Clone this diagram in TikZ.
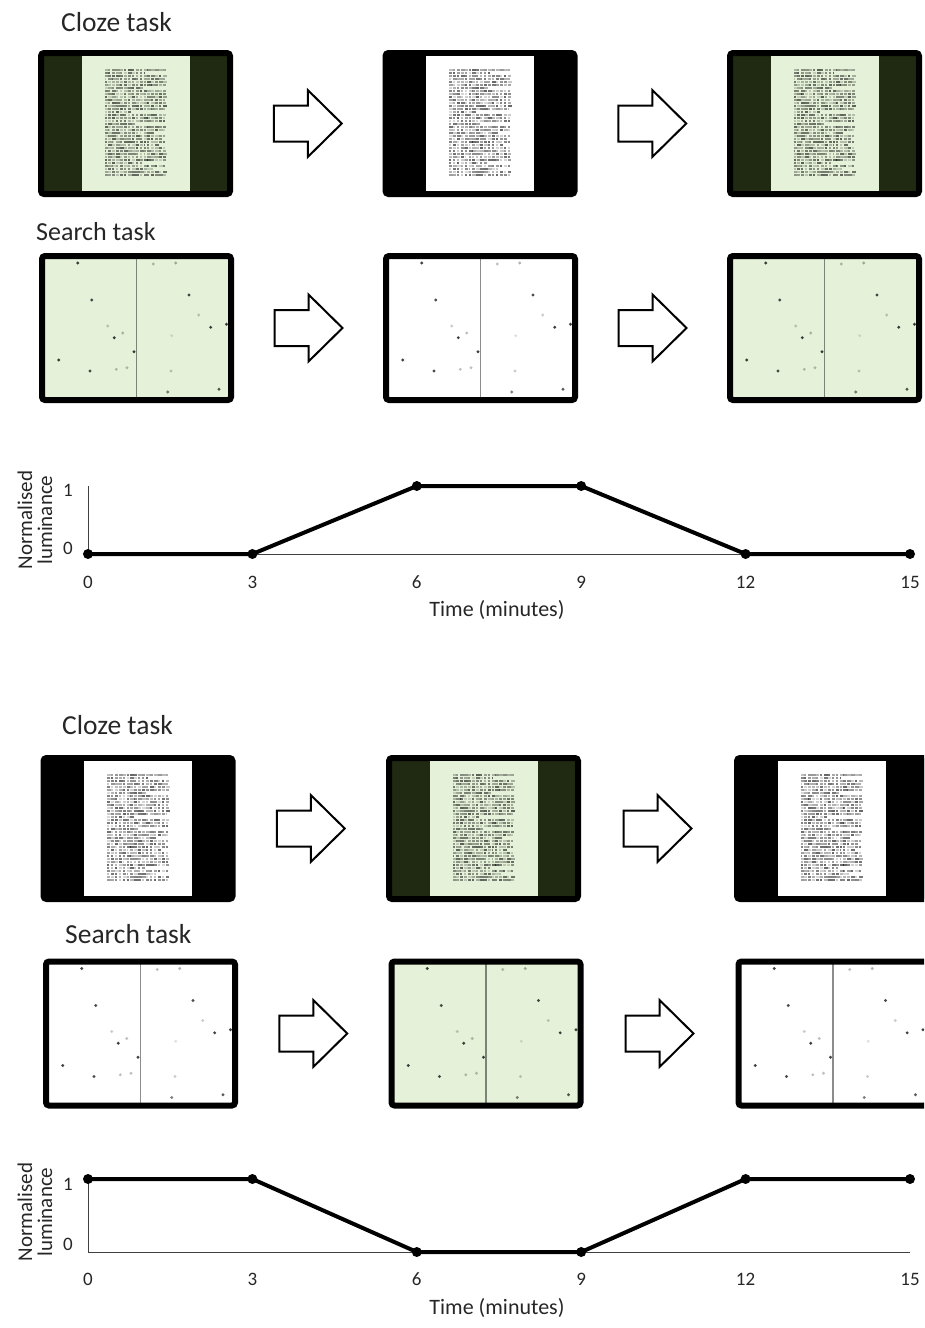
\documentclass[tikz,border=0pt]{standalone}
\usepackage{fontspec}
\setmainfont{Carlito}
\usetikzlibrary{calc}

\definecolor{pagegreen}{RGB}{229,241,217}
\definecolor{sidegreen}{RGB}{32,42,18}

\tikzset{
  paneltitle/.style={anchor=west, inner sep=0pt, font=\fontsize{27.5}{30}\selectfont, text=black!85},
  clozebox/.style={draw=black, line width=6pt, rounded corners=3pt, inner sep=0pt,
                   minimum width=189pt, minimum height=141pt},
  searchbox/.style={draw=black, line width=6pt, rounded corners=3pt, inner sep=0pt,
                   minimum width=189pt, minimum height=144pt},
  sheet/.style={inner sep=0pt, minimum width=108pt, minimum height=135pt},
  divider/.style={draw=black, opacity=0.45, line width=1.6pt},
  blockarrow/.style={draw=black, fill=white, line width=2pt, miter limit=10},
  axisline/.style={draw=black!75, line width=0.8pt},
  curve/.style={draw=black, line width=4pt, line join=round},
  datadot/.style={circle, fill=black, inner sep=0pt, minimum size=10pt},
  ticklabel/.style={inner sep=0pt, font=\fontsize{19}{22}\selectfont, text=black!85},
  axistitle/.style={inner sep=0pt, font=\fontsize{22}{26}\selectfont, text=black!85},
  ytitle/.style={inner sep=0pt, rotate=90, align=center, font=\fontsize{21}{20}\selectfont, text=black!85}
}

% speckled block standing for a printed page of text;
% word lengths and ink densities come from a fixed hash of row and column
\newcommand{\printblock}[1]{%
  \begin{scope}[shift={(#1.center)}]
    \foreach \r in {0,...,35}{
      \pgfmathsetmacro{\hr}{mod(abs(sin(\r*419.2+17))*331.7,1)}
      \pgfmathsetmacro{\cut}{ifthenelse(\hr<0.22, 6+int(\hr*40), 16)}
      \foreach \c in {0,...,15}{
        \pgfmathsetmacro{\ha}{mod(abs(sin(\r*127.1+\c*311.7+3))*437.585,1)}
        \pgfmathsetmacro{\hb}{mod(abs(sin(\r*269.5+\c*183.3+7))*215.123,1)}
        \pgfmathsetmacro{\w}{1.8+2.4*\ha}
        \pgfmathsetmacro{\op}{ifthenelse(\c>\cut, 0, 0.15+0.45*\hb)}
        \fill[black,opacity=\op] ({-31+\c*3.9},{-54.5+\r*3}) rectangle ++(\w,2);
      }
    }
  \end{scope}}

% scattered targets of the visual search display
\newcommand{\targetdots}[1]{%
  \begin{scope}[shift={(#1.center)}]
    \foreach \dx/\dy/\op in {-58.8/-65/0.75, 16.8/-64/0.25, 39.2/-65/0.3, -44.8/-28/0.7,
        52.5/-33/0.7, -28.8/-2/0.2, -13.8/5/0.25, -22.2/9.7/0.75, 62.2/-13/0.2,
        74.2/-0.7/0.75, 90/-3.7/0.75, -2.5/23.7/0.75, -77.8/32/0.75, -46.5/43/0.7,
        -20.2/41.3/0.25, -9.5/39.7/0.25, 35.2/7.7/0.12, 34.5/43/0.2, 31.2/64/0.5,
        82.5/61.3/0.65}{
      \fill[black,opacity=\op] (\dx,\dy) circle (1.6);
    }
  \end{scope}}

% hollow block arrow centred on a coordinate
\newcommand{\hollowarrow}[1]{%
  \draw[blockarrow, shift={(#1)}] (-34,-18) -- (0,-18) -- (0,-33.5) -- (34,0)
     -- (0,33.5) -- (0,18) -- (-34,18) -- cycle;}

% cloze panel: name, position, side colour, page colour
\newcommand{\clozepanel}[4]{%
  \node[clozebox, fill=#3] (#1) at (#2) {};
  \node[sheet, fill=#4] (#1p) at (#1.center) {};
  \printblock{#1p}}

% search panel: name, position, background colour
\newcommand{\searchpanel}[3]{%
  \node[searchbox, fill=#3] (#1) at (#2) {};
  \draw[divider] ($(#1.north)+(0,3)$) -- ($(#1.south)+(0,-3)$);
  \targetdots{#1}}

\begin{document}
\begin{tikzpicture}[x=1pt, y=-1pt]
\useasboundingbox (0,0) rectangle (924,1328);
\clip (0,0) rectangle (924,1328);

% ---------------- first condition ----------------
\node[paneltitle] (ctitleA) at (61,22) {Cloze task};
\clozepanel{cA1}{135.5,123.5}{sidegreen}{pagegreen}
\clozepanel{cA2}{480,123.5}{black}{white}
\clozepanel{cA3}{824.5,123.5}{sidegreen}{pagegreen}
\coordinate (aA1) at ($(cA1.east)!0.5!(cA2.west)$);
\coordinate (aA2) at ($(cA2.east)!0.5!(cA3.west)$);
\hollowarrow{aA1}
\hollowarrow{aA2}

\node[paneltitle, font=\fontsize{26}{30}\selectfont] (stitleA) at (36,232) {Search task};
\searchpanel{sA1}{136.5,328}{pagegreen}
\searchpanel{sA2}{480.5,328}{white}
\searchpanel{sA3}{824.5,328}{pagegreen}
\coordinate (bA1) at ($(sA1.east)!0.5!(sA2.west)$);
\coordinate (bA2) at ($(sA2.east)!0.5!(sA3.west)$);
\hollowarrow{bA1}
\hollowarrow{bA2}

% luminance profile: up, hold, down
\coordinate (gA0) at (88,554);
\coordinate (gA1) at (88,486);
\coordinate (gAend) at (910,554);
\draw[axisline] (gA1) -- (gA0) -- (gAend);
\node[ticklabel] (yA1) at (68,490) {1};
\node[ticklabel] (yA0) at (68,548) {0};
\node[ytitle] (ytA) at (35,520) {Normalised\\luminance};
\foreach \t/\v [count=\i from 0] in {0/0,3/0,6/1,9/1,12/0,15/0}{
  \node[datadot] (pA\i) at ({88+54.8*\t},{554-68*\v}) {};
  \node[ticklabel] (xA\i) at ({88+54.8*\t},582) {\t};
}
\draw[curve] (pA0.center) -- (pA1.center) -- (pA2.center) -- (pA3.center) -- (pA4.center) -- (pA5.center);
\node[axistitle] (xtA) at (497,610) {Time (minutes)};

% ---------------- second condition ----------------
\node[paneltitle] (ctitleB) at (62,725) {Cloze task};
\clozepanel{cB1}{138,828.5}{black}{white}
\clozepanel{cB2}{483.5,828.5}{sidegreen}{pagegreen}
\clozepanel{cB3}{831.5,828.5}{black}{white}
\coordinate (aB1) at ($(cB1.east)!0.5!(cB2.west)$);
\coordinate (aB2) at ($(cB2.east)!0.5!(cB3.west)$);
\hollowarrow{aB1}
\hollowarrow{aB2}

\node[paneltitle] (stitleB) at (65,934) {Search task};
\searchpanel{sB1}{140.5,1033.5}{white}
\searchpanel{sB2}{486,1033.5}{pagegreen}
\searchpanel{sB3}{833,1033.5}{white}
\coordinate (bB1) at ($(sB1.east)!0.5!(sB2.west)$);
\coordinate (bB2) at ($(sB2.east)!0.5!(sB3.west)$);
\hollowarrow{bB1}
\hollowarrow{bB2}

% luminance profile: down, hold, up
\coordinate (gB0) at (88,1252);
\coordinate (gB1) at (88,1179);
\coordinate (gBend) at (910,1252);
\draw[axisline] (gB1) -- (gB0) -- (gBend);
\node[ticklabel] (yB1) at (68,1184) {1};
\node[ticklabel] (yB0) at (68,1244) {0};
\node[ytitle] (ytB) at (35,1212) {Normalised\\luminance};
\foreach \t/\v [count=\i from 0] in {0/1,3/1,6/0,9/0,12/1,15/1}{
  \node[datadot] (pB\i) at ({88+54.8*\t},{1252-73*\v}) {};
  \node[ticklabel] (xB\i) at ({88+54.8*\t},1279) {\t};
}
\draw[curve] (pB0.center) -- (pB1.center) -- (pB2.center) -- (pB3.center) -- (pB4.center) -- (pB5.center);
\node[axistitle] (xtB) at (497,1308) {Time (minutes)};
\end{tikzpicture}
\end{document}
